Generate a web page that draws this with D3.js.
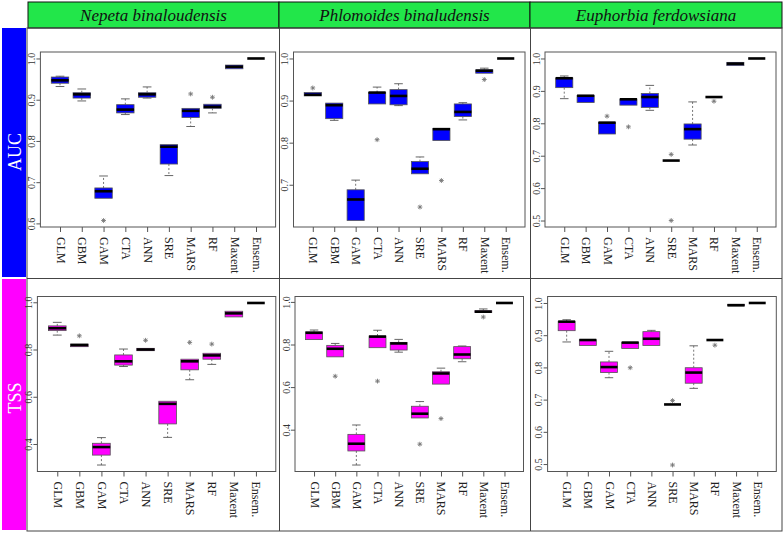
<!DOCTYPE html>
<html><head><meta charset="utf-8">
<script src="https://cdn.jsdelivr.net/npm/d3@7"></script>
<style>body{margin:0;background:#fff}svg{display:block}</style>
</head><body>
<svg id="c" width="784" height="533"></svg>
<script>
// ---------- DATA ----------
const models = ["GLM","GBM","GAM","CTA","ANN","SRE","MARS","RF","Maxent","Ensem."];
const species = ["Nepeta binaloudensis","Phlomoides binaludensis","Euphorbia ferdowsiana"];
const metrics = ["AUC","TSS"];
// each entry: [lower whisker, Q1, median, Q3, upper whisker]
const aucNepeta = [[0.932,0.940,0.947,0.955,0.957],[0.897,0.904,0.913,0.917,0.926],[0.661,0.661,0.678,0.686,0.715],[0.864,0.868,0.876,0.888,0.902],[0.904,0.906,0.913,0.917,0.931],[0.716,0.744,0.786,0.791,0.791],[0.835,0.857,0.873,0.879,0.879],[0.868,0.879,0.883,0.889,0.889],[0.975,0.975,0.980,0.984,0.984],[1,1,1,1,1]];
const aucNepetaOut = [[],[],[0.607],[],[],[],[0.914],[0.906],[],[]];
const aucPhlomoides = [[0.911,0.911,0.914,0.919,0.919],[0.853,0.857,0.889,0.894,0.894],[0.615,0.615,0.665,0.688,0.711],[0.892,0.892,0.919,0.919,0.932],[0.888,0.890,0.911,0.926,0.940],[0.726,0.726,0.738,0.755,0.766],[0.805,0.805,0.832,0.834,0.834],[0.854,0.862,0.873,0.892,0.895],[0.965,0.965,0.971,0.973,0.977],[1,1,1,1,1]];
const aucPhlomoidesOut = [[0.930],[],[],[0.807],[],[0.647],[0.710],[],[0.950],[]];
const aucEuphorbia = [[0.876,0.910,0.939,0.940,0.946],[0.864,0.864,0.885,0.886,0.886],[0.767,0.767,0.802,0.803,0.803],[0.856,0.856,0.874,0.875,0.875],[0.840,0.849,0.881,0.892,0.917],[0.685,0.685,0.685,0.685,0.685],[0.733,0.751,0.782,0.798,0.866],[0.881,0.881,0.881,0.881,0.881],[0.978,0.978,0.984,0.988,0.988],[1,1,1,1,1]];
const aucEuphorbiaOut = [[],[],[0.822],[0.789],[],[0.704,0.500],[],[0.868],[],[]];
const tssNepeta = [[0.861,0.880,0.890,0.900,0.915],[0.812,0.812,0.819,0.823,0.823],[0.311,0.353,0.387,0.403,0.427],[0.728,0.734,0.750,0.777,0.802],[0.795,0.795,0.800,0.805,0.805],[0.428,0.485,0.570,0.581,0.581],[0.672,0.714,0.750,0.759,0.759],[0.737,0.759,0.775,0.784,0.784],[0.938,0.938,0.953,0.962,0.962],[0.997,0.997,0.997,0.997,0.997]];
const tssNepetaOut = [[],[0.858],[],[],[0.839],[],[0.830],[0.823],[],[]];
const tssPhlomoides = [[0.823,0.823,0.855,0.859,0.868],[0.742,0.742,0.780,0.796,0.805],[0.234,0.300,0.334,0.378,0.422],[0.785,0.785,0.837,0.840,0.867],[0.764,0.774,0.805,0.810,0.824],[0.455,0.455,0.475,0.510,0.532],[0.614,0.614,0.664,0.672,0.689],[0.719,0.733,0.753,0.790,0.793],[0.950,0.950,0.954,0.959,0.967],[0.995,0.995,0.995,0.995,0.995]];
const tssPhlomoidesOut = [[],[0.651],[],[0.628],[],[0.332],[0.452],[],[0.929],[]];
const tssEuphorbia = [[0.879,0.914,0.942,0.943,0.948],[0.868,0.868,0.885,0.886,0.886],[0.768,0.784,0.801,0.817,0.850],[0.859,0.859,0.877,0.878,0.878],[0.868,0.868,0.889,0.911,0.915],[0.685,0.685,0.685,0.685,0.685],[0.735,0.751,0.784,0.799,0.867],[0.885,0.885,0.885,0.885,0.885],[0.991,0.991,0.993,0.996,0.996],[1,1,1,1,1]];
const tssEuphorbiaOut = [[],[],[],[0.799],[],[0.697,0.497],[],[0.869],[],[]];
const ticksAucNepeta = [0.6,0.7,0.8,0.9,1.0];
const ticksAucPhlomoides = [0.7,0.8,0.9,1.0];
const ticksAucEuphorbia = [0.5,0.6,0.7,0.8,0.9,1.0];
const ticksTssNepeta = [0.4,0.6,0.8,1.0];
const ticksTssPhlomoides = [0.4,0.6,0.8,1.0];
const ticksTssEuphorbia = [0.5,0.6,0.7,0.8,0.9,1.0];

// ---------- LAYOUT ----------
const svg = d3.select("#c");
const FONT = "'Liberation Serif','Times New Roman',serif";
const metricColors = ["#0000FF","#FF00FF"];
const headerGreen = "#22E64A";
const colEdges = [28,279,530,782];
const rowEdges = [28,278,531];
const plotRows = [{top:52,bottom:227},{top:296.5,bottom:471.5}];
const plotCols = [[[40.4,275.6],[293.5,525],[545,776]],[[37.4,275.8],[295,523.5],[547.6,776.3]]];

const panels = [
  [[aucNepeta,aucNepetaOut,ticksAucNepeta],[aucPhlomoides,aucPhlomoidesOut,ticksAucPhlomoides],[aucEuphorbia,aucEuphorbiaOut,ticksAucEuphorbia]],
  [[tssNepeta,tssNepetaOut,ticksTssNepeta],[tssPhlomoides,tssPhlomoidesOut,ticksTssPhlomoides],[tssEuphorbia,tssEuphorbiaOut,ticksTssEuphorbia]]
];

// header
species.forEach((s,i)=>{
  svg.append("rect").attr("x",colEdges[i]).attr("y",2).attr("width",colEdges[i+1]-colEdges[i]).attr("height",26)
    .attr("fill",headerGreen).attr("stroke","#111").attr("stroke-width",1);
  svg.append("text").attr("x",(colEdges[i]+colEdges[i+1])/2).attr("y",21)
    .attr("text-anchor","middle").attr("font-family",FONT).attr("font-style","italic")
    .attr("font-size",17).attr("fill","#111").text(s);
});
// side strips
metrics.forEach((m,r)=>{
  svg.append("rect").attr("x",2).attr("y",rowEdges[r]+(r?1:0)).attr("width",24).attr("height",rowEdges[r+1]-rowEdges[r]-(r?1:0)-1)
    .attr("fill",metricColors[r]);
  const cy = r===0 ? 152 : 398;
  svg.append("text").attr("transform",`translate(15,${cy}) rotate(-90)`)
    .attr("text-anchor","middle").attr("dominant-baseline","central")
    .attr("font-family",FONT).attr("font-size",18).attr("fill","#fff").text(m);
});
// panel frame lines
svg.append("rect").attr("x",27).attr("y",28).attr("width",755).attr("height",503)
  .attr("fill","none").attr("stroke","#444").attr("stroke-width",1);
svg.append("line").attr("x1",27).attr("x2",782).attr("y1",278.5).attr("y2",278.5).attr("stroke","#444");
[279,530].forEach(x=>svg.append("line").attr("x1",x+0.5).attr("x2",x+0.5).attr("y1",28).attr("y2",531).attr("stroke","#444"));

function star(g,x,y,r,col){
  const d = `M${x-r},${y}L${x+r},${y}M${x},${y-r}L${x},${y+r}M${x-r*0.7},${y-r*0.7}L${x+r*0.7},${y+r*0.7}M${x-r*0.7},${y+r*0.7}L${x+r*0.7},${y-r*0.7}`;
  g.append("path").attr("d",d).attr("stroke",col).attr("stroke-width",0.9).attr("fill","none");
}

panels.forEach((row,r)=>{
  row.forEach(([stats,outs,ticks],c)=>{
    const [x0,x1] = plotCols[r][c];
    const {top,bottom} = plotRows[r];
    const allVals = stats.flat().concat(outs.flat());
    const lo = d3.min(allVals), hi = d3.max(allVals), ext = (hi-lo)*0.04;
    const y = d3.scaleLinear().domain([lo-ext,hi+ext]).range([bottom,top]);
    const x = d3.scaleLinear().domain([0.1,10.9]).range([x0,x1]);
    const g = svg.append("g");
    const bw = (x(2)-x(1))*0.8;

    // y axis
    const yAxis = g.append("g").attr("transform",`translate(${x0},0)`)
      .call(d3.axisLeft(y).tickValues(ticks).tickSize(4).tickFormat(d3.format(".1f")));
    yAxis.select(".domain").remove();
    yAxis.selectAll("line").attr("stroke","#555");
    yAxis.selectAll("text").attr("font-family",FONT).attr("font-size",10).attr("fill","#333")
      .attr("x",0).attr("dy",null)
      .attr("transform",d=>`translate(-9,0) rotate(-90)`)
      .attr("text-anchor","middle").attr("dominant-baseline","central");

    // x axis
    const xAxis = g.append("g").attr("transform",`translate(0,${bottom})`)
      .call(d3.axisBottom(x).tickValues(d3.range(1,11)).tickSize(5).tickFormat(i=>models[i-1]));
    xAxis.select(".domain").remove();
    xAxis.selectAll("line").attr("stroke","#555");
    xAxis.selectAll("text").attr("font-family",FONT).attr("font-size",12).attr("fill","#222")
      .attr("y",0).attr("dy",null)
      .attr("transform","translate(0,10) rotate(90)")
      .attr("text-anchor","start").attr("dominant-baseline","central");

    // plot frame
    g.append("rect").attr("x",x0).attr("y",top).attr("width",x1-x0).attr("height",bottom-top)
      .attr("fill","none").attr("stroke","#555").attr("stroke-width",1);

    stats.forEach((s,i)=>{
      const cx = x(i+1);
      const [wl,q1,md,q3,wh] = s;
      // whiskers
      [[q3,wh],[q1,wl]].forEach(([a,b])=>{
        if (a!==b){
          g.append("line").attr("x1",cx).attr("x2",cx).attr("y1",y(a)).attr("y2",y(b))
            .attr("stroke","#666").attr("stroke-width",0.9).attr("stroke-dasharray","2,2");
          g.append("line").attr("x1",cx-bw/4).attr("x2",cx+bw/4).attr("y1",y(b)).attr("y2",y(b))
            .attr("stroke","#555").attr("stroke-width",0.9);
        }
      });
      g.append("rect").attr("x",cx-bw/2).attr("y",y(q3)).attr("width",bw).attr("height",Math.max(0,y(q1)-y(q3)))
        .attr("fill",metricColors[r]).attr("stroke","#555").attr("stroke-width",0.8);
      g.append("line").attr("x1",cx-bw/2).attr("x2",cx+bw/2).attr("y1",y(md)).attr("y2",y(md))
        .attr("stroke","#000").attr("stroke-width",2.6);
      outs[i].forEach(v=>star(g,cx,y(v),2.4,"#777"));
    });
  });
});
</script>
</body></html>
